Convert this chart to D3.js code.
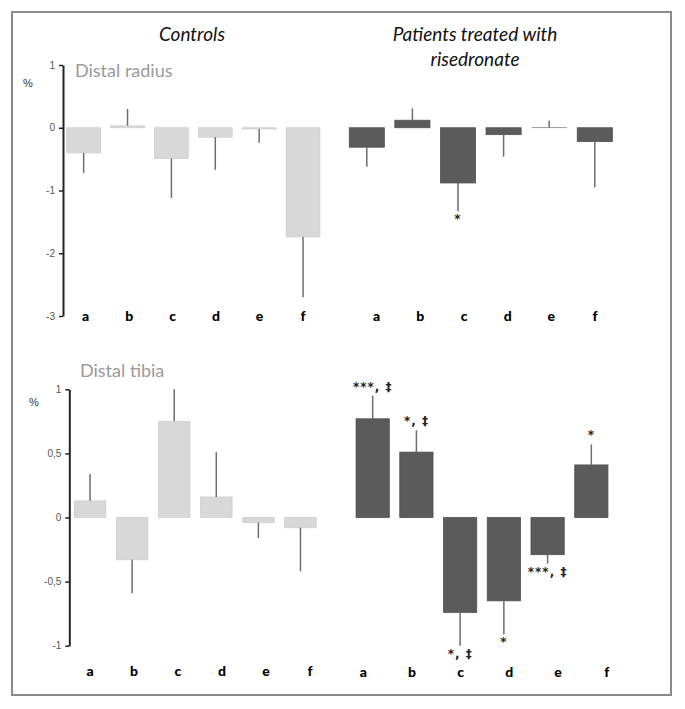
<!DOCTYPE html>
<html><head><meta charset="utf-8">
<script src="https://cdn.jsdelivr.net/npm/d3@7"></script>
<style>
html,body{margin:0;padding:0;background:#fff;}
svg{display:block;}
</style></head>
<body>
<script>
// ---- data ----
const categories = ["a","b","c","d","e","f"];
const radiusControls      = [-0.40, 0.03, -0.49, -0.15, -0.02, -1.74];
const radiusControlsErr   = [0.32, 0.27, 0.63, 0.52, 0.22, 0.96];
const radiusRisedronate    = [-0.31, 0.12, -0.88, -0.11, 0.005, -0.22];
const radiusRisedronateErr = [0.31, 0.19, 0.45, 0.35, 0.11, 0.73];
const radiusRisedronateSig = ["", "", "*", "", "", ""];
const tibiaControls       = [0.13, -0.33, 0.75, 0.16, -0.04, -0.08];
const tibiaControlsErr    = [0.21, 0.26, 0.25, 0.35, 0.12, 0.34];
const tibiaRisedronate     = [0.77, 0.51, -0.74, -0.65, -0.29, 0.41];
const tibiaRisedronateErr  = [0.18, 0.17, 0.26, 0.26, 0.07, 0.16];
const tibiaRisedronateSig  = ["***, \u2021", "*, \u2021", "*, \u2021", "*", "***, \u2021", "*"];
const radiusTicks = [1, 0, -1, -2, -3];
const radiusTickLabels = ["1", "0", "-1", "-2", "-3"];
const tibiaTicks = [1, 0.5, 0, -0.5, -1];
const tibiaTickLabels = ["1", "0,5", "0", "-0,5", "-1"];
const groupTitles = ["Controls", "Patients treated with", "risedronate"];
const siteTitles = ["Distal radius", "Distal tibia"];

const W = 685, H = 709;
const svg = d3.select("body").append("svg").attr("width", W).attr("height", H);

// frame
svg.append("rect").attr("x", 12).attr("y", 12).attr("width", 659).attr("height", 683)
  .attr("fill", "none").attr("stroke", "#8a8a8a").attr("stroke-width", 2);

const LIGHT = "#d8d8d8", DARK = "#5b5b5b";

// group titles
svg.append("text").attr("x", 192).attr("y", 41).attr("text-anchor", "middle")
  .attr("font-family", "Lato, 'Open Sans', sans-serif").attr("font-style", "italic")
  .attr("font-size", 19).attr("fill", "#111").text(groupTitles[0]);
svg.append("text").attr("x", 475).attr("y", 41).attr("text-anchor", "middle")
  .attr("font-family", "Lato, 'Open Sans', sans-serif").attr("font-style", "italic")
  .attr("font-size", 19).attr("fill", "#111").text(groupTitles[1]);
svg.append("text").attr("x", 475).attr("y", 66).attr("text-anchor", "middle")
  .attr("font-family", "Lato, 'Open Sans', sans-serif").attr("font-style", "italic")
  .attr("font-size", 19).attr("fill", "#111").text(groupTitles[2]);

// scales
const yTop = d3.scaleLinear().domain([-3, 1]).range([316, 65]);
const yBot = d3.scaleLinear().domain([-1, 1]).range([645.7, 389.3]);

function band(r0, r1, p) {
  return d3.scaleBand().domain(categories).range([r0, r1]).paddingInner(p).paddingOuter(p / 2);
}

function axis(x, y, ticks, labels) {
  const g = svg.append("g").attr("transform", `translate(${x},0)`)
    .call(d3.axisLeft(y).tickValues(ticks).tickSize(4).tickSizeOuter(0)
      .tickFormat((d, i) => labels[i]));
  g.select(".domain").attr("stroke", "#222").attr("stroke-width", 2);
  g.selectAll(".tick line").attr("stroke", "#222").attr("stroke-width", 1.5);
  g.selectAll(".tick text").attr("font-family", "'Liberation Sans', Arial, sans-serif")
    .attr("font-size", 10).attr("fill", "#555").attr("x", -8);
}

function panel(x, y, vals, errs, color, labelX, labelY, sig) {
  const g = svg.append("g");
  const y0 = y(0);
  g.selectAll("rect.bar").data(vals).join("rect").attr("class", "bar")
    .attr("x", (d, i) => x(categories[i]))
    .attr("width", x.bandwidth())
    .attr("y", d => Math.min(y(d), y0))
    .attr("height", d => Math.max(0.6, Math.abs(y(d) - y0)))
    .attr("fill", color)
    .attr("stroke", color === LIGHT ? "#cfcfcf" : "#505050")
    .attr("stroke-width", d => Math.abs(y(d) - y0) < 1 ? 0 : 0.8);
  g.selectAll("line.err").data(vals).join("line").attr("class", "err")
    .attr("x1", (d, i) => x(categories[i]) + x.bandwidth() / 2)
    .attr("x2", (d, i) => x(categories[i]) + x.bandwidth() / 2)
    .attr("y1", d => y(d))
    .attr("y2", (d, i) => y(d >= 0 ? d + errs[i] : d - errs[i]))
    .attr("stroke", "#6e6e6e").attr("stroke-width", 1.5);
  g.selectAll("text.cat").data(categories).join("text").attr("class", "cat")
    .attr("x", d => labelX(d)).attr("y", labelY).attr("text-anchor", "middle")
    .attr("font-family", "Lato, 'Open Sans', sans-serif").attr("font-weight", "900")
    .attr("font-size", 14).attr("fill", "#000").text(d => d);
  if (sig) {
    g.selectAll("text.sig").data(vals).join("text").attr("class", "sig")
      .attr("x", (d, i) => x(categories[i]) + x.bandwidth() / 2)
      .attr("y", (d, i) => d >= 0 ? y(d + errs[i]) - 5 : y(d - errs[i]) + 12)
      .attr("text-anchor", "middle")
      .attr("font-family", "'DejaVu Sans', sans-serif").attr("font-size", 12)
      .attr("font-weight", "bold")
      .attr("letter-spacing", 1).attr("fill", "#222")
      .text((d, i) => sig[i]);
  }
}

// top-left: radius controls
axis(63, yTop, radiusTicks, radiusTickLabels);
panel(band(61.7, 325, 0.23), yTop, radiusControls, radiusControlsErr, LIGHT,
  d3.scalePoint().domain(categories).range([85.7, 303]), 321, null);
// top-right: radius risedronate
panel(band(344, 617.6, 0.23), yTop, radiusRisedronate, radiusRisedronateErr, DARK,
  d3.scalePoint().domain(categories).range([376.7, 595]), 321, radiusRisedronateSig);
// bottom-left: tibia controls
axis(69.3, yBot, tibiaTicks, tibiaTickLabels);
panel(band(69, 321.5, 0.25), yBot, tibiaControls, tibiaControlsErr, LIGHT,
  d3.scalePoint().domain(categories).range([90, 310]), 676, null);
// bottom-right: tibia risedronate
panel(band(350.8, 613.2, 0.24), yBot, tibiaRisedronate, tibiaRisedronateErr, DARK,
  d3.scalePoint().domain(categories).range([363.3, 606.7]), 677, tibiaRisedronateSig);

// site titles
svg.append("text").attr("x", 75).attr("y", 77)
  .attr("font-family", "Lato, 'Open Sans', sans-serif").attr("font-size", 18)
  .attr("fill", "#9a9a9a").text(siteTitles[0]);
svg.append("text").attr("x", 80).attr("y", 377)
  .attr("font-family", "Lato, 'Open Sans', sans-serif").attr("font-size", 18)
  .attr("fill", "#9a9a9a").text(siteTitles[1]);

// % labels
svg.append("text").attr("x", 23).attr("y", 87)
  .attr("font-family", "'Liberation Sans', Arial, sans-serif").attr("font-size", 11)
  .attr("fill", "#333").text("%");
svg.append("text").attr("x", 29).attr("y", 406)
  .attr("font-family", "'Liberation Sans', Arial, sans-serif").attr("font-size", 11)
  .attr("fill", "#333").text("%");
</script>
</body></html>
